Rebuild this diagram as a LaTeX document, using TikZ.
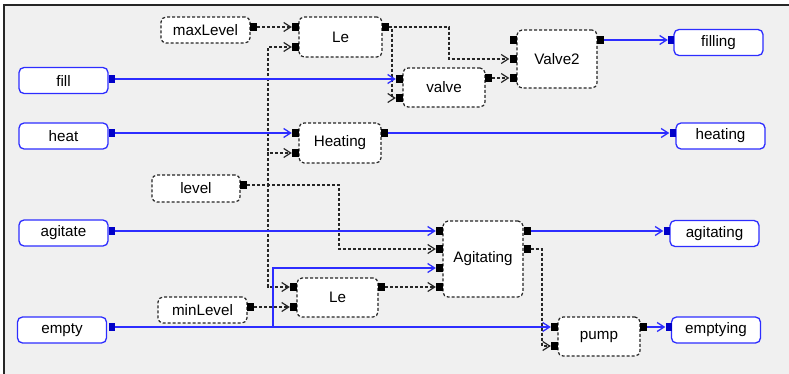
\documentclass[tikz,border=0pt]{standalone}
\usepackage{fontspec}
\setmainfont{Liberation Sans}
\usetikzlibrary{arrows.meta}
\definecolor{azulvivo}{RGB}{45,45,255}
\definecolor{azulpuerto}{RGB}{0,0,200}
\definecolor{gristenue}{RGB}{240,240,240}
\tikzset{
  senal/.style={
    rounded corners=5pt,
    draw=azulvivo,
    line width=1.3pt,
    fill=white,
    minimum width=89pt,
    minimum height=26pt,
    inner sep=0pt,
    font=\fontsize{15.2}{18}\selectfont
  },
  proceso/.style={
    rounded corners=5pt,
    draw=black!85,
    dash pattern=on 3pt off 2pt,
    line width=1.2pt,
    fill=white,
    inner sep=0pt,
    font=\fontsize{15.2}{18}\selectfont
  },
  puerto/.style={
    fill=black,
    minimum width=7pt,
    minimum height=8pt,
    inner sep=0pt
  },
  puertoazul/.style={
    puerto,
    fill=azulpuerto,
    minimum width=6pt
  },
  flecha/.style={
    -{Straight Barb[length=7pt,width=9pt]},
    line width=1.2pt,
    black!85,
    dash pattern=on 3pt off 2pt
  },
  flechaazul/.style={
    -{Straight Barb[length=7pt,width=9pt]},
    line width=1.3pt,
    azulvivo
  }
}

\begin{document}
\begin{tikzpicture}[x=1pt,y=-1pt]
\useasboundingbox (0,0) rectangle (789,374);
\fill[white] (0,0) rectangle (789,374);
\fill[gristenue] (4,5) rectangle (789,374);
\draw[black!85, line width=1.3pt] (4,374) -- (4,5) -- (789,5);

% entradas y salidas
\node[senal] (fill-n) at (63.5,80.5) {fill};
\node[senal] (heat-n) at (63.5,136) {heat};
\node[senal] (agitate-n) at (63.5,233) {agitate};
\node[senal] (empty-n) at (62,330) {empty};
\node[senal] (filling-n) at (718.5,42.5) {filling};
\node[senal] (heating-n) at (720.5,136) {heating};
\node[senal] (agitating-n) at (714.5,233.5) {agitating};
\node[senal] (emptying-n) at (716,330) {emptying};

% bloques
\node[proceso, minimum width=89pt, minimum height=26pt] (maxlevel) at (205.5,30) {maxLevel};
\node[proceso, minimum width=88pt, minimum height=27pt] (level) at (196,188.5) {level};
\node[proceso, minimum width=89pt, minimum height=26pt] (minlevel) at (202.5,310) {minLevel};
\node[proceso, minimum width=83pt, minimum height=40pt] (le1) at (340.5,37) {Le};
\node[proceso, minimum width=82pt, minimum height=40pt] (heatblk) at (340,143) {Heating};
\node[proceso, minimum width=82pt, minimum height=39pt] (valve) at (444,87.5) {valve};
\node[proceso, minimum width=80pt, minimum height=58pt] (valve2) at (557,59) {Valve2};
\node[proceso, minimum width=80pt, minimum height=76pt] (agit) at (483,259) {Agitating};
\node[proceso, minimum width=81pt, minimum height=39pt] (le2) at (337.5,297.5) {Le};
\node[proceso, minimum width=82pt, minimum height=39pt] (pump) at (599,336.5) {pump};

% puertos azules
\node[puertoazul] (fill-o) at (111.5,79) {};
\node[puertoazul] (heat-o) at (111.5,133) {};
\node[puertoazul] (agitate-o) at (111.5,231) {};
\node[puertoazul] (empty-o) at (111.5,327) {};
\node[puertoazul] (filling-i) at (671,40) {};
\node[puertoazul] (heating-i) at (672.5,133) {};
\node[puertoazul] (agitating-i) at (666.5,231) {};
\node[puertoazul] (emptying-i) at (668.5,327) {};

% puertos negros
\node[puerto] (maxlevel-o) at (253.5,27) {};
\node[puerto] (level-o) at (243.5,185) {};
\node[puerto] (minlevel-o) at (250.5,307) {};
\node[puerto] (le1-i1) at (295.5,27) {};
\node[puerto] (le1-i2) at (295.5,47) {};
\node[puerto] (le1-o) at (385,27) {};
\node[puerto] (heatblk-i1) at (295.5,133) {};
\node[puerto] (heatblk-i2) at (295.5,153) {};
\node[puerto] (heatblk-o) at (384.5,133) {};
\node[puerto] (valve-i1) at (399.5,79) {};
\node[puerto] (valve-i2) at (399.5,98) {};
\node[puerto] (valve-o) at (488.5,78) {};
\node[puerto] (valve2-i1) at (513,40) {};
\node[puerto] (valve2-i2) at (513,59) {};
\node[puerto] (valve2-i3) at (513,78) {};
\node[puerto] (valve2-o) at (600.5,40) {};
\node[puerto] (agit-i1) at (439.5,231) {};
\node[puerto] (agit-i2) at (439.5,249) {};
\node[puerto] (agit-i3) at (439.5,268) {};
\node[puerto] (agit-i4) at (439.5,287) {};
\node[puerto] (agit-o1) at (527,231) {};
\node[puerto] (agit-o2) at (527,249) {};
\node[puerto] (le2-i1) at (293.5,287) {};
\node[puerto] (le2-i2) at (293.5,307) {};
\node[puerto] (le2-o) at (381.5,287) {};
\node[puerto] (pump-i1) at (554.5,327) {};
\node[puerto] (pump-i2) at (554.5,346) {};
\node[puerto] (pump-o) at (643.5,327) {};

% conexiones de datos
\draw[flecha] (maxlevel-o.east) -- (le1-i1.west);
\draw[flecha] (level-o.east) -| (268,47) -- (le1-i2.west);
\draw[flecha] (level-o.east) -| (268,153) -- (heatblk-i2.west);
\draw[flecha] (level-o.east) -| (268,287) -- (le2-i1.west);
\draw[flecha] (level-o.east) -| (339,249) -- (agit-i2.west);
\draw[flecha] (le1-o.east) -| (392,98) -- (valve-i2.west);
\draw[flecha] (le1-o.east) -| (449,59) -- (valve2-i2.west);
\draw[flecha] (valve-o.east) -- (valve2-i3.west);
\draw[flecha] (minlevel-o.east) -- (le2-i2.west);
\draw[flecha] (le2-o.east) -- (agit-i4.west);
\draw[flecha] (agit-o2.east) -| (542,346) -- (pump-i2.west);

% conexiones de eventos
\draw[flechaazul] (fill-o.east) -- (valve-i1.west);
\draw[flechaazul] (valve2-o.east) -- (filling-i.west);
\draw[flechaazul] (heat-o.east) -- (heatblk-i1.west);
\draw[flechaazul] (heatblk-o.east) -- (heating-i.west);
\draw[flechaazul] (agitate-o.east) -- (agit-i1.west);
\draw[flechaazul] (empty-o.east) -| (273,268) -- (agit-i3.west);
\draw[flechaazul] (empty-o.east) -- (pump-i1.west);
\draw[flechaazul] (agit-o1.east) -- (agitating-i.west);
\draw[flechaazul] (pump-o.east) -- (emptying-i.west);
\end{tikzpicture}
\end{document}
